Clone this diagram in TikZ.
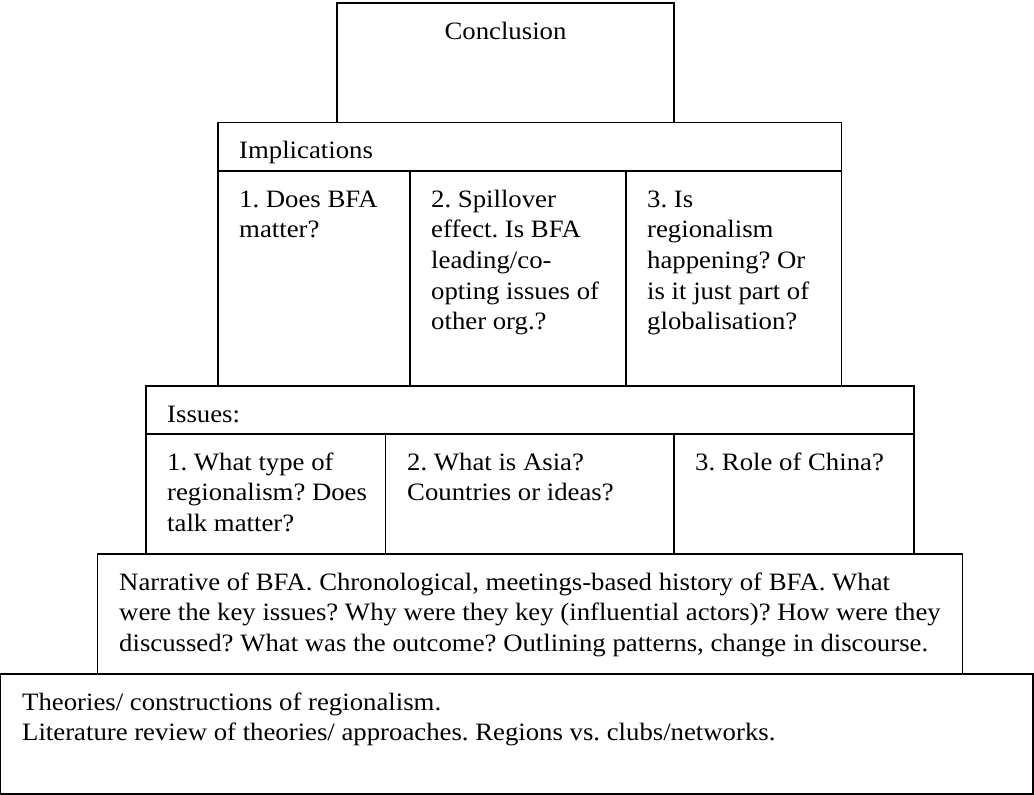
\documentclass[tikz,border=0pt]{standalone}
\usepackage{fontspec}
\setmainfont{Liberation Serif}[FakeStretch=1.07]
\begin{document}
\frenchspacing
\begin{tikzpicture}[x=1pt,y=-1pt,
  boxline/.style={draw=black,line width=1.3pt},
  txt/.style={anchor=base west,inner sep=0pt,align=left,font=\fontsize{25}{30.7}\selectfont}]
\useasboundingbox (0,0) rectangle (1034,795);
% boxes
\draw[boxline] (337,3) rectangle (674,122.7);
\draw[boxline] (218,122.7) rectangle (841.7,386);
\draw[boxline] (218,171) -- (841.7,171);
\draw[boxline] (410,171) -- (410,386);
\draw[boxline] (626,171) -- (626,386);
\draw[boxline] (146,386) rectangle (914,554);
\draw[boxline] (146,434) -- (914,434);
\draw[boxline] (385.7,434) -- (385.7,554);
\draw[boxline] (674,434) -- (674,554);
\draw[boxline] (97.7,554) rectangle (962.3,674);
\draw[boxline] (0.7,674) rectangle (1033,794);
% texts (anchor = baseline of the last line)
\node[txt,anchor=base] (concl) at (505.5,39) {Conclusion};
\node[txt] (impl) at (239,158.5) {Implications};
\node[txt] (i1) at (239,237.7) {1. Does BFA\\matter?};
\node[txt] (i2) at (431,329.8) {2. Spillover\\effect. Is BFA\\leading/co-\\opting issues of\\other org.?};
\node[txt] (i3) at (647,329.8) {3. Is\\regionalism\\happening? Or\\is it just part of\\globalisation?};
\node[txt] (iss) at (167,422) {Issues:};
\node[txt] (s1) at (167,531.4) {1. What type of\\regionalism? Does\\talk matter?};
\node[txt] (s2) at (407,500.7) {2. What is Asia?\\Countries or ideas?};
\node[txt] (s3) at (695,470) {3. Role of China?};
\node[txt] (narr) at (119,651.4) {Narrative of BFA. Chronological, meetings-based history of BFA. What\\were the key issues? Why were they key (influential actors)? How were they\\discussed? What was the outcome? Outlining patterns, change in discourse.};
\node[txt] (theo) at (22,740.7) {Theories/ constructions of regionalism.\\Literature review of theories/ approaches. Regions vs. clubs/networks.};
\end{tikzpicture}
\end{document}
